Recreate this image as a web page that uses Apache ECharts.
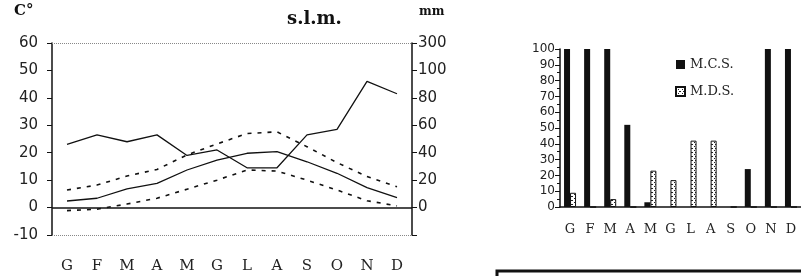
<!DOCTYPE html>
<html>
<head>
<meta charset="utf-8">
<script src="https://cdn.jsdelivr.net/npm/echarts@6/dist/echarts.min.js"></script>
<style>
  html, body { margin: 0; padding: 0; background: #fff; }
  #chart { width: 801px; height: 276px; }
</style>
</head>
<body>
<div id="chart"></div>
<script>
// months (Italian initials)
const months = ['G', 'F', 'M', 'A', 'M', 'G', 'L', 'A', 'S', 'O', 'N', 'D'];

// climate diagram: temperatures (C°) and precipitation (mm)
const tempMax = [6.4, 8.2, 11.5, 13.9, 19.2, 23.2, 27, 27.6, 22.2, 16.4, 11.3, 7.6];
const tempMean = [2.4, 3.4, 6.8, 8.8, 13.7, 17.3, 19.8, 20.4, 16.7, 12.5, 7.3, 3.6];
const tempMin = [-1.1, -0.6, 1.3, 3.4, 6.7, 10, 13.7, 13.3, 10, 6.4, 2.5, 0.6];
const precip = [46, 53, 48, 53, 38, 42, 29, 29, 53, 57, 92, 83];

// right axis labels: mm scale is 2x temp up to 100, top tick reads 300
const mmLabels = { '-20': '', '0': '0', '20': '20', '40': '40', '60': '60', '80': '80', '100': '100', '120': '300' };

// bar chart
const mcs = [100, 100, 100, 52, 3, 0, 0, 0, 0, 24, 100, 100];
const mds = [9, 0, 5, 0, 23, 17, 42, 42, 0, 0, 0, 0];

// dotted fill for M.D.S. bars
function makePattern() {
  const c = document.createElement('canvas');
  c.width = 4; c.height = 4;
  const ctx = c.getContext('2d');
  ctx.fillStyle = '#fff';
  ctx.fillRect(0, 0, 4, 4);
  ctx.fillStyle = '#222';
  ctx.fillRect(0, 0, 1, 1);
  ctx.fillRect(2, 2, 1, 1);
  ctx.fillRect(3, 0, 1, 1);
  return c;
}
const dotted = { image: makePattern(), repeat: 'repeat' };

const serif = 'DejaVu Serif';
const sans = 'DejaVu Sans';

const chart = echarts.init(document.getElementById('chart'));

const dash = { color: '#111', width: 1.6, type: [4, 6] };

chart.setOption({
  animation: false,
  backgroundColor: '#fff',
  legend: {
    data: ['M.C.S.', 'M.D.S.'],
    orient: 'vertical',
    left: 670,
    top: 53,
    itemWidth: 9,
    itemHeight: 9,
    itemGap: 14,
    icon: 'rect',
    textStyle: { fontFamily: serif, fontSize: 13, color: '#222' }
  },
  graphic: [
    { type: 'text', left: 14, top: 4, style: { text: 'C°', font: 'bold 15px "DejaVu Serif"', fill: '#111' } },
    { type: 'text', left: 287, top: 10, style: { text: 's.l.m.', font: 'bold 18px "DejaVu Serif"', fill: '#111' } },
    { type: 'text', left: 419, top: 6, style: { text: 'mm', font: 'bold 12px "DejaVu Serif"', fill: '#111' } },
    { type: 'rect', shape: { x: 497, y: 271, width: 320, height: 30 }, style: { fill: 'none', stroke: '#111', lineWidth: 3 } }
  ],
  grid: [
    { left: 52, top: 43, width: 360, height: 192 },
    { left: 560, top: 49, width: 245, height: 158 }
  ],
  xAxis: [
    {
      gridIndex: 0,
      type: 'category',
      data: months,
      boundaryGap: true,
      axisLine: { show: false },
      axisTick: { show: false },
      axisLabel: { margin: 24, fontFamily: serif, fontSize: 15, color: '#222' }
    },
    {
      gridIndex: 1,
      type: 'category',
      data: months,
      axisLine: { lineStyle: { color: '#111', width: 1.5 } },
      axisTick: { length: 4, lineStyle: { color: '#111' } },
      axisLabel: { margin: 16, fontFamily: serif, fontSize: 13, color: '#222' }
    }
  ],
  yAxis: [
    {
      gridIndex: 0,
      type: 'value',
      min: -10,
      max: 60,
      interval: 10,
      axisLine: { show: true, lineStyle: { color: '#111', width: 1.5 } },
      axisTick: { show: true, length: 5, lineStyle: { color: '#111' } },
      splitLine: { show: false },
      axisLabel: { margin: 14, fontFamily: sans, fontSize: 15, color: '#222' }
    },
    {
      gridIndex: 0,
      type: 'value',
      position: 'right',
      min: -20,
      max: 120,
      interval: 20,
      axisLine: { show: true, lineStyle: { color: '#111', width: 1.5 } },
      axisTick: { show: true, length: 5, lineStyle: { color: '#111' } },
      splitLine: { show: false },
      axisLabel: {
        margin: 6, fontFamily: sans, fontSize: 15, color: '#222',
        formatter: v => mmLabels[String(v)]
      }
    },
    {
      gridIndex: 1,
      type: 'value',
      min: 0,
      max: 100,
      interval: 10,
      axisLine: { show: true, lineStyle: { color: '#111', width: 1.5 } },
      axisTick: { show: true, length: 5, lineStyle: { color: '#111' } },
      minorTick: { show: true, splitNumber: 2, length: 3, lineStyle: { color: '#111' } },
      splitLine: { show: false },
      axisLabel: { margin: 5, fontFamily: sans, fontSize: 12, color: '#222' }
    }
  ],
  series: [
    {
      name: 'max',
      type: 'line',
      xAxisIndex: 0, yAxisIndex: 0,
      data: tempMax,
      symbol: 'none',
      lineStyle: dash,
      markLine: {
        silent: true,
        symbol: 'none',
        label: { show: false },
        data: [
          { yAxis: 60, lineStyle: { color: '#888', width: 1, type: 'dotted' } },
          { yAxis: -10, lineStyle: { color: '#888', width: 1, type: 'dotted' } },
          { yAxis: 0, lineStyle: { color: '#111', width: 1.5, type: 'solid' } }
        ]
      }
    },
    {
      name: 'media',
      type: 'line',
      xAxisIndex: 0, yAxisIndex: 0,
      data: tempMean,
      symbol: 'none',
      lineStyle: { color: '#111', width: 1.3 }
    },
    {
      name: 'min',
      type: 'line',
      xAxisIndex: 0, yAxisIndex: 0,
      data: tempMin,
      symbol: 'none',
      lineStyle: dash
    },
    {
      name: 'mm',
      type: 'line',
      xAxisIndex: 0, yAxisIndex: 1,
      data: precip,
      symbol: 'none',
      lineStyle: { color: '#111', width: 1.3 }
    },
    {
      name: 'M.C.S.',
      type: 'bar',
      xAxisIndex: 1, yAxisIndex: 2,
      data: mcs,
      barWidth: 6,
      barGap: '0%',
      itemStyle: { color: '#111' }
    },
    {
      name: 'M.D.S.',
      type: 'bar',
      xAxisIndex: 1, yAxisIndex: 2,
      data: mds,
      barWidth: 6,
      itemStyle: { color: dotted, borderColor: '#111', borderWidth: 1 }
    }
  ]
});
</script>
</body>
</html>
